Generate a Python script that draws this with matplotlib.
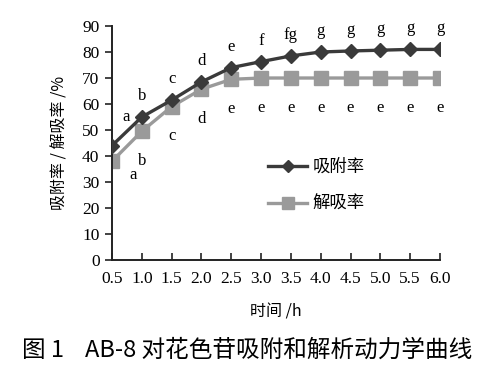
import matplotlib.pyplot as plt
import numpy as np

# time / h
hours = [0.5, 1.0, 1.5, 2.0, 2.5, 3.0, 3.5, 4.0, 4.5, 5.0, 5.5, 6.0]
# adsorption rate / %
adsorb = [44, 55, 61.5, 68.5, 74, 76.3, 78.5, 80, 80.4, 80.7, 81, 81]
# desorption rate / %
desorb = [38, 49.5, 59, 65.7, 69.5, 70, 70, 70, 70, 70, 70, 70]
# significance letters
adsorb_sig = ['a', 'b', 'c', 'd', 'e', 'f', 'fg', 'g', 'g', 'g', 'g', 'g']
desorb_sig = ['a', 'b', 'c', 'd', 'e', 'e', 'e', 'e', 'e', 'e', 'e', 'e']

serif = ['Liberation Serif', 'Noto Sans CJK SC']
cjk = ['Noto Sans CJK SC', 'Liberation Serif']
plt.rcParams['font.family'] = serif

fig = plt.figure(figsize=(5, 3.69), dpi=100)
ax = fig.add_axes([0.224, 0.2954, 0.656, 0.6341])

ax.plot(hours, adsorb, color='#3a3a3a', lw=2.4, marker='D', ms=7.5, label='吸附率', zorder=3)
ax.plot(hours, desorb, color='#9a9a9a', lw=2.4, marker='s', ms=10, label='解吸率', zorder=2)

# letters above adsorption points, below desorption points
for i, (h, s) in enumerate(zip(hours, adsorb_sig)):
    if i == 0:
        ax.text(0.73, 52, s, ha='center', va='bottom', fontsize=12)
    else:
        ax.text(h, adsorb[i] + 5, s, ha='center', va='bottom', fontsize=12)
for i, (h, s) in enumerate(zip(hours, desorb_sig)):
    if i == 0:
        ax.text(0.85, 29.5, s, ha='center', va='bottom', fontsize=12)
    else:
        ax.text(h, desorb[i] - 14.5, s, ha='center', va='bottom', fontsize=12)

ax.set_xlim(0.5, 6.0)
ax.set_ylim(0, 90)
ax.set_xticks(hours)
ax.set_xticklabels(['%.1f' % h for h in hours])
ax.set_yticks(np.arange(0, 91, 10))
ax.tick_params(axis='y', labelsize=12.5, direction='out', length=5, width=1.2,
               color='#222222', pad=4)
ax.tick_params(axis='x', labelsize=12.5, direction='in', length=5, width=1.2,
               color='#222222', pad=8)
ax.spines['top'].set_visible(False)
ax.spines['right'].set_visible(False)
for sp in ['left', 'bottom']:
    ax.spines[sp].set_linewidth(1.4)
    ax.spines[sp].set_color('#222222')

leg = ax.legend(loc='lower left', bbox_to_anchor=(0.476, 0.2), frameon=False,
                prop={'family': cjk, 'size': 12.5}, handlelength=2.25,
                labelspacing=1.1, handletextpad=0.3, borderpad=0, borderaxespad=0,
                markerscale=0.85)

ax.set_xlabel('时间 /h', family=cjk, fontsize=11.5, labelpad=12)
ax.set_ylabel('吸附率 / 解吸率 /%', family=cjk, fontsize=11.5, labelpad=10)

fig.text(0.045, 0.052, '图 1    AB-8 对花色苷吸附和解析动力学曲线', family=cjk,
         fontsize=17, ha='left', va='center')

plt.savefig('out.png', dpi=100)
